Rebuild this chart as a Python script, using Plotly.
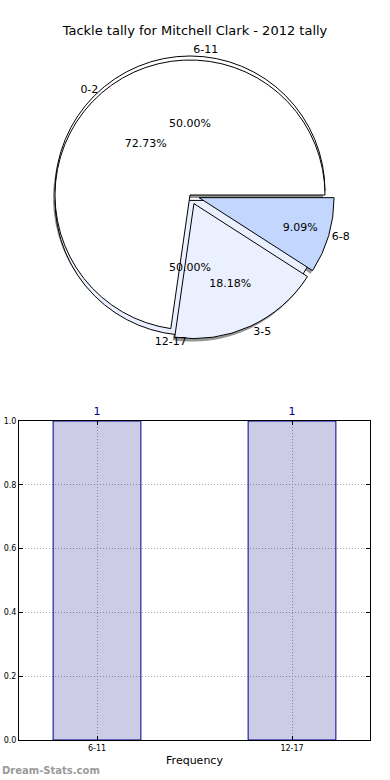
import plotly.graph_objects as go

# ---- data ----
pie1_labels = ["0-2", "3-5", "6-8"]
pie1_values = [8, 2, 1]
pie1_colors = ["#FFFFFF", "#EAF0FD", "#C3D6FD"]
pie1_pull = [0.0, 0.07, 0.07]

pie2_labels = ["6-11", "12-17"]
pie2_values = [1, 1]
pie2_colors = ["#FFFFFF", "#EAF0FD"]
pie2_pull = [0.03, 0.04]

bar_categories = ["6-11", "12-17"]
bar_values = [1, 1]
bar_text = ["1", "1"]

title_text = "Tackle tally for Mitchell Clark - 2012 tally"

# ---- layout geometry ----
W, H = 390, 780
CX, CY, R = 190, 195, 135
FONT = "DejaVu Sans"


def pie_domain(pulls, dx=0, dy=0):
    side = 2 * R * (1 + max(pulls))
    cx, cy = CX + dx, CY + dy
    return dict(
        x=[(cx - side / 2) / W, (cx + side / 2) / W],
        y=[1 - (cy + side / 2) / H, 1 - (cy - side / 2) / H],
    )


def start_rotation(values):
    # matplotlib style: first slice starts at 3 o'clock, counterclockwise
    return 90 - 360 * values[0] / sum(values)


def common(values):
    return dict(sort=False, direction="counterclockwise",
                rotation=start_rotation(values),
                showlegend=False, hoverinfo="skip")


fig = go.Figure()

# shadow of pie 1
fig.add_trace(go.Pie(
    labels=pie1_labels, values=pie1_values, pull=pie1_pull,
    domain=pie_domain(pie1_pull, dx=-2, dy=3),
    marker=dict(colors=["rgba(60,60,60,0.55)"] * 3, line=dict(width=0)),
    textinfo="none", **common(pie1_values)))

# pie 2 fills
fig.add_trace(go.Pie(
    labels=pie2_labels, values=pie2_values, pull=pie2_pull,
    domain=pie_domain(pie2_pull),
    marker=dict(colors=pie2_colors, line=dict(color="#000000", width=1)),
    textinfo="none", **common(pie2_values)))

# pie 1 fills
fig.add_trace(go.Pie(
    labels=pie1_labels, values=pie1_values, pull=pie1_pull,
    domain=pie_domain(pie1_pull),
    marker=dict(colors=pie1_colors, line=dict(color="#000000", width=1)),
    textinfo="none", **common(pie1_values)))

transparent1 = dict(colors=["rgba(0,0,0,0)"] * 3, line=dict(width=0))
transparent2 = dict(colors=["rgba(0,0,0,0)"] * 2, line=dict(width=0))
txtfont = dict(family=FONT, size=11, color="#000000")

# percent texts and labels
for labels, values, pull, mk in [
    (pie2_labels, pie2_values, pie2_pull, transparent2),
    (pie1_labels, pie1_values, pie1_pull, transparent1),
]:
    fig.add_trace(go.Pie(
        labels=labels, values=values, pull=pull, domain=pie_domain(pull),
        marker=mk, texttemplate="%{percent:.2%}", textposition="inside",
        insidetextorientation="horizontal", insidetextfont=txtfont,
        **common(values)))
    fig.add_trace(go.Pie(
        labels=labels, values=values, pull=pull, domain=pie_domain(pull),
        marker=mk, texttemplate="%{label}", textposition="outside",
        outsidetextfont=txtfont, **common(values)))

# bar chart
fig.add_trace(go.Bar(
    x=bar_categories, y=bar_values, width=0.45,
    marker=dict(color="rgba(0,0,128,0.2)", line=dict(color="#00008B", width=1)),
    text=bar_text, textposition="outside", cliponaxis=False,
    textfont=dict(family=FONT, size=11, color="#00008B"),
    showlegend=False, hoverinfo="skip"))

grid = dict(showgrid=True, gridcolor="#A8A8A8", griddash="1px,2px", gridwidth=1)

fig.update_layout(
    width=W, height=H, margin=dict(l=0, r=0, t=0, b=0),
    paper_bgcolor="#FFFFFF", plot_bgcolor="#FFFFFF",
    font=dict(family=FONT, color="#000000"),
    title=dict(text=title_text, x=0.5, xanchor="center", y=1 - 30 / H,
               yanchor="middle", font=dict(family=FONT, size=13, color="#000000")),
    xaxis=dict(domain=[19 / W, 370 / W], range=[-0.4, 1.4], type="category",
               automargin=False,
               showline=True, linecolor="#000000", linewidth=1, mirror="allticks",
               ticks="inside", ticklen=4, tickcolor="#000000",
               tickfont=dict(family=FONT, size=8, color="#000000"),
               title=dict(text="Frequency", font=dict(family=FONT, size=11), standoff=4),
               zeroline=False, **grid),
    yaxis=dict(domain=[1 - 740 / H, 1 - 421 / H], range=[0, 1], dtick=0.2,
               automargin=False,
               tickformat=".1f", showline=True, linecolor="#000000", linewidth=1,
               mirror="allticks", ticks="inside", ticklen=4, tickcolor="#000000",
               tickfont=dict(family=FONT, size=8, color="#000000"), zeroline=False,
               **grid),
    annotations=[dict(text="Dream-Stats.com", x=0, y=1 - 770 / H, xref="paper",
                      yref="paper", xanchor="left", yanchor="middle", showarrow=False,
                      font=dict(family=FONT, size=10, color="#9A9A9A", weight="bold"))],
)

fig.write_html("out.html", config={"displayModeBar": False},
               post_script="document.body.style.margin='0';")
